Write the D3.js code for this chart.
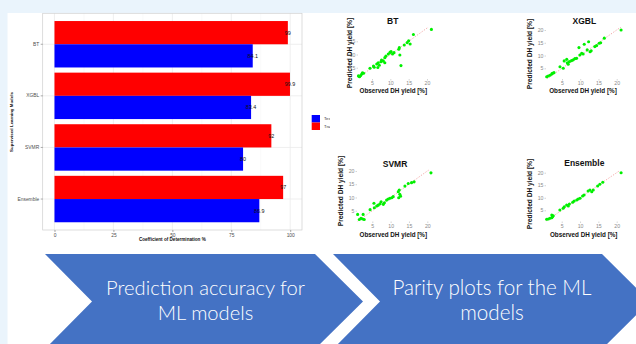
<!DOCTYPE html>
<html><head><meta charset="utf-8">
<script src="https://cdn.jsdelivr.net/npm/d3@7"></script>
<style>html,body{margin:0;padding:0;background:#fff;} svg{display:block;}</style>
</head><body>
<svg id="c" width="636" height="344"></svg>
<script>
// ---------- data ----------
const models = ["BT", "XGBL", "SVMR", "Ensemble"];
const trainR2 = [99, 99.9, 92, 97];
const testR2 = [84.1, 83.4, 80, 86.9];
const trainLabels = ["99", "99.9", "92", "97"];
const testLabels = ["84.1", "83.4", "80", "86.9"];
const barTicks = [0, 25, 50, 75, 100];
const legendLabels = ["Test", "Train"];

const btObs  = [1.3,1.6,1.9,2.2,2.4,2.7,4.45,5.4,5.6,6.3,6.6,6.7,7.0,7.45,7.6,8.1,8.5,8.5,8.8,9.45,9.9,10.2,10.6,11.0,12.3,12.45,12.6,12.9,13.8,14.6,15.0,15.4,16.3,21.2];
const btPred = [1.9,1.6,2.0,2.6,3.1,2.9,4.8,5.6,5.15,6.4,5.1,6.9,5.9,7.3,7.9,7.5,6.9,8.8,9.4,10.2,10.8,11.1,10.2,10.7,12.0,12.6,9.8,5.8,13.6,14.5,15.2,14.0,17.6,19.5];

const xgblObs  = [0.8,1.2,1.7,2.2,2.4,2.8,4.45,5.35,5.6,6.3,6.45,6.7,7.0,7.6,8.1,8.55,9.0,9.65,9.9,10.4,10.8,11.1,11.9,12.3,12.7,13.0,14.0,14.5,15.2,15.6,16.6,21.2];
const xgblPred = [1.7,2.0,2.3,2.8,3.05,3.3,5.6,5.0,7.9,8.5,7.2,6.6,7.6,8.0,8.3,8.8,8.9,13.1,10.2,10.9,10.6,14.4,12.2,15.4,11.5,11.9,13.5,13.9,14.8,15.0,16.8,20.0];

const svmrObs  = [1.0,1.45,1.9,2.4,2.8,2.5,4.4,5.45,5.55,6.2,6.6,7.1,7.4,8.0,8.3,8.9,9.35,9.8,10.3,10.7,12.1,12.35,12.5,12.7,12.2,13.9,14.8,15.7,16.4,21.0];
const svmrPred = [3.6,1.7,2.1,1.85,1.7,3.6,5.4,7.8,6.1,6.8,7.1,7.6,8.4,7.4,8.0,9.0,9.4,9.7,9.9,10.3,12.2,12.8,11.2,10.5,9.9,14.3,15.3,15.6,15.9,19.3];

const ensObs  = [0.9,1.35,1.8,2.3,2.5,2.7,2.3,4.5,5.4,5.7,6.35,6.8,7.1,8.0,8.4,9.1,9.5,10.0,10.7,11.1,12.2,12.7,13.2,13.6,14.8,15.4,16.2,21.2];
const ensPred = [1.4,1.5,1.8,2.0,2.4,2.8,3.1,5.1,5.8,6.4,7.1,6.7,7.5,8.2,8.7,9.1,9.5,9.8,10.7,11.1,12.7,13.1,12.4,13.1,14.7,15.4,16.2,20.0];

const parityXTicks = [5, 10, 15, 20];
const btYTicks = [5, 10, 15];
const otherYTicks = [5, 10, 15, 20];
const arrowTexts = [["Prediction accuracy for", "ML models"], ["Parity plots for the ML", "models"]];

(function () {
const svg = d3.select("#c");
const FONT = "'Liberation Sans', Arial, sans-serif";
svg.append("rect").attr("width", 636).attr("height", 344).attr("fill", "#ffffff");
svg.append("rect").attr("x", 0).attr("y", 0).attr("width", 636).attr("height", 13).attr("fill", "#EAF4FC");
svg.append("rect").attr("x", 0).attr("y", 0).attr("width", 7.5).attr("height", 344).attr("fill", "#EAF4FC");

// ---------- bar chart ----------
const P = {left: 42.7, right: 302, top: 13.3, bottom: 230};
const x = d3.scaleLinear().domain([-5, 105]).range([P.left, P.right]);
const y = d3.scaleBand().domain(models).range([P.top, P.bottom]).paddingInner(0.1).paddingOuter(0.15);
const sub = d3.scaleBand().domain(["Train", "Test"]).range([0, y.bandwidth()]);
const g = svg.append("g");

const minor = [12.5, 37.5, 62.5, 87.5];
g.selectAll(".gmin").data(minor).join("line")
  .attr("x1", d => x(d)).attr("x2", d => x(d)).attr("y1", P.top).attr("y2", P.bottom)
  .attr("stroke", "#f4f4f4").attr("stroke-width", 0.5);
g.selectAll(".gmaj").data(barTicks).join("line")
  .attr("x1", d => x(d)).attr("x2", d => x(d)).attr("y1", P.top).attr("y2", P.bottom)
  .attr("stroke", "#ebebeb").attr("stroke-width", 0.8);
g.selectAll(".gh").data(models).join("line")
  .attr("x1", P.left).attr("x2", P.right)
  .attr("y1", d => y(d) + y.bandwidth() / 2).attr("y2", d => y(d) + y.bandwidth() / 2)
  .attr("stroke", "#ebebeb").attr("stroke-width", 0.8);

const rows = models.map((m, i) => ({m, train: trainR2[i], test: testR2[i], tl: trainLabels[i], sl: testLabels[i]}));
const gr = g.selectAll(".row").data(rows).join("g").attr("transform", d => `translate(0,${y(d.m)})`);
gr.append("rect").attr("x", x(0)).attr("y", sub("Train")).attr("width", d => x(d.train) - x(0)).attr("height", sub.bandwidth()).attr("fill", "#FF0000");
gr.append("rect").attr("x", x(0)).attr("y", sub("Test")).attr("width", d => x(d.test) - x(0)).attr("height", sub.bandwidth()).attr("fill", "#0000FF");
gr.append("text").attr("x", d => x(d.train)).attr("y", sub("Train") + sub.bandwidth() / 2).attr("dy", "0.35em")
  .attr("text-anchor", "middle").attr("font-family", FONT).attr("font-size", 5.4).attr("fill", "#111").text(d => d.tl);
gr.append("text").attr("x", d => x(d.test)).attr("y", sub("Test") + sub.bandwidth() / 2).attr("dy", "0.35em")
  .attr("text-anchor", "middle").attr("font-family", FONT).attr("font-size", 5.4).attr("fill", "#111").text(d => d.sl);

g.append("rect").attr("x", P.left).attr("y", P.top).attr("width", P.right - P.left).attr("height", P.bottom - P.top)
  .attr("fill", "none").attr("stroke", "#cfcfcf").attr("stroke-width", 0.7);

const ax = g.append("g").attr("transform", `translate(0,${P.bottom})`)
  .call(d3.axisBottom(x).tickValues(barTicks).tickSize(2).tickPadding(1.5));
const ay = g.append("g").attr("transform", `translate(${P.left},0)`)
  .call(d3.axisLeft(y).tickSize(2).tickPadding(1.5));
[ax, ay].forEach(a => {
  a.select(".domain").remove();
  a.selectAll("line").attr("stroke", "#555").attr("stroke-width", 0.5);
  a.selectAll("text").attr("font-family", FONT).attr("font-size", 4.9).attr("fill", "#4d4d4d");
});
g.append("text").attr("x", x(50)).attr("y", 241).attr("text-anchor", "middle")
  .attr("font-family", FONT).attr("font-weight", "bold").attr("font-size", 4.6).attr("fill", "#111")
  .text("Coefficient of Determination %");
g.append("text").attr("transform", "translate(11,122) rotate(-90)").attr("dy", "0.35em").attr("text-anchor", "middle")
  .attr("font-family", FONT).attr("font-weight", "bold").attr("font-size", 4.4).attr("fill", "#111")
  .text("Supervised Learning Models");

// legend
svg.append("clipPath").attr("id", "legclip").append("rect").attr("x", 300).attr("y", 100).attr("width", 30).attr("height", 40);
const lg = svg.append("g").attr("clip-path", "url(#legclip)");
const legColors = ["#0000FF", "#FF0000"];
legendLabels.forEach((l, i) => {
  lg.append("rect").attr("x", 311.7).attr("y", 115 + i * 7.5).attr("width", 8.3).attr("height", 7.5).attr("fill", legColors[i]);
  lg.append("text").attr("x", 324).attr("y", 115 + i * 7.5 + 3.75).attr("dy", "0.35em")
    .attr("font-family", FONT).attr("font-size", 4.2).attr("fill", "#333").text(l);
});

// ---------- parity plots ----------
const panels = [
  {name: "BT", obs: btObs, pred: btPred, yTicks: btYTicks, x5: 372, x20: 427, y5: 67.7, y20: 28.1,
   rect: [358, 27, 433, 79], tx: 392.7, ty: 24, xtx: 393.3, xty: 93, ytx: 350, yty: 53},
  {name: "XGBL", obs: xgblObs, pred: xgblPred, yTicks: otherYTicks, x5: 562, x20: 616.7, y5: 68.3, y20: 30,
   rect: [546, 27, 624, 79], tx: 584.3, ty: 24, xtx: 583, xty: 93, ytx: 530, yty: 54},
  {name: "SVMR", obs: svmrObs, pred: svmrPred, yTicks: otherYTicks, x5: 372.3, x20: 427.3, y5: 210.7, y20: 171,
   rect: [357, 169.5, 433, 221.5], tx: 395, ty: 166.5, xtx: 393.3, xty: 236.5, ytx: 341, yty: 191},
  {name: "Ensemble", obs: ensObs, pred: ensPred, yTicks: otherYTicks, x5: 561.7, x20: 616.7, y5: 210.3, y20: 172.7,
   rect: [546, 170.5, 624, 221.5], tx: 584.3, ty: 166, xtx: 583.7, xty: 236.5, ytx: 530, yty: 194}
];

panels.forEach((p, k) => {
  const sx = d3.scaleLinear().domain([5, 20]).range([p.x5, p.x20]);
  const sy = d3.scaleLinear().domain([5, 20]).range([p.y5, p.y20]);
  const [l, t, r, b] = p.rect;
  const pg = svg.append("g");
  const cid = "pc" + k;
  pg.append("clipPath").attr("id", cid).append("rect").attr("x", l).attr("y", t).attr("width", r - l).attr("height", b - t);

  const lo = Math.max(sx.invert(l), sy.invert(b));
  const hi = Math.min(sx.invert(r), sy.invert(t));
  pg.append("line").attr("clip-path", `url(#${cid})`)
    .attr("x1", sx(lo)).attr("y1", sy(lo)).attr("x2", sx(hi)).attr("y2", sy(hi))
    .attr("stroke", "#F2A0A0").attr("stroke-width", 0.9).attr("stroke-dasharray", "1.3,1.5");

  const pts = p.obs.map((o, i) => ({o, v: p.pred[i]}));
  pg.selectAll("circle").data(pts).join("circle")
    .attr("cx", d => sx(d.o)).attr("cy", d => sy(d.v)).attr("r", 1.55).attr("fill", "#00F000");

  const xa = pg.append("g").attr("transform", `translate(0,${b})`)
    .call(d3.axisBottom(sx).tickValues(parityXTicks).tickSize(1.5).tickPadding(1));
  const ya = pg.append("g").attr("transform", `translate(${l},0)`)
    .call(d3.axisLeft(sy).tickValues(p.yTicks).tickSize(1.5).tickPadding(1));
  [xa, ya].forEach(a => {
    a.select(".domain").remove();
    a.selectAll("line").attr("stroke", "#aaa").attr("stroke-width", 0.5);
    a.selectAll("text").attr("font-family", FONT).attr("font-size", 5.2).attr("fill", "#8a8a8a");
  });

  pg.append("text").attr("x", p.tx).attr("y", p.ty).attr("text-anchor", "middle")
    .attr("font-family", FONT).attr("font-weight", "bold").attr("font-size", 8.5).attr("fill", "#111").text(p.name);
  pg.append("text").attr("x", p.xtx).attr("y", p.xty).attr("text-anchor", "middle")
    .attr("font-family", FONT).attr("font-weight", "bold").attr("font-size", 6.3).attr("fill", "#111").text("Observed DH yield [%]");
  pg.append("text").attr("transform", `translate(${p.ytx},${p.yty}) rotate(-90)`).attr("dy", "0.35em").attr("text-anchor", "middle")
    .attr("font-family", FONT).attr("font-weight", "bold").attr("font-size", 6.6).attr("fill", "#111").text("Predicted DH yield [%]");
});

// ---------- chevron arrows ----------
const chevrons = [
  {x0: 45, x1: 315, notch: 47, tip: 48, cx: 205.5},
  {x0: 333, x1: 602, notch: 47, tip: 48, cx: 492}
];
const arTop = 254, arBot = 349, arMid = (arTop + arBot) / 2;
const AFONT = "Lato, 'Open Sans', sans-serif";
chevrons.forEach((c, i) => {
  const pts = [[c.x0, arTop], [c.x1, arTop], [c.x1 + c.tip, arMid], [c.x1, arBot], [c.x0, arBot], [c.x0 + c.notch, arMid]];
  svg.append("path").attr("d", d3.line()(pts) + "Z").attr("fill", "#4472C4");
  const lines = arrowTexts[i];
  const t1 = svg.append("text").attr("x", c.cx).attr("y", 295).attr("text-anchor", "middle")
    .attr("font-family", AFONT).attr("font-weight", 300).attr("font-size", 20).attr("fill", "#ffffff").text(lines[0]);
  const w = t1.node().getComputedTextLength();
  const fs = 20 * 199 / w;
  t1.attr("font-size", fs);
  svg.append("text").attr("x", c.cx).attr("y", 319.5).attr("text-anchor", "middle")
    .attr("font-family", AFONT).attr("font-weight", 300).attr("font-size", fs).attr("fill", "#ffffff").text(lines[1]);
});
})();
</script>
</body></html>
